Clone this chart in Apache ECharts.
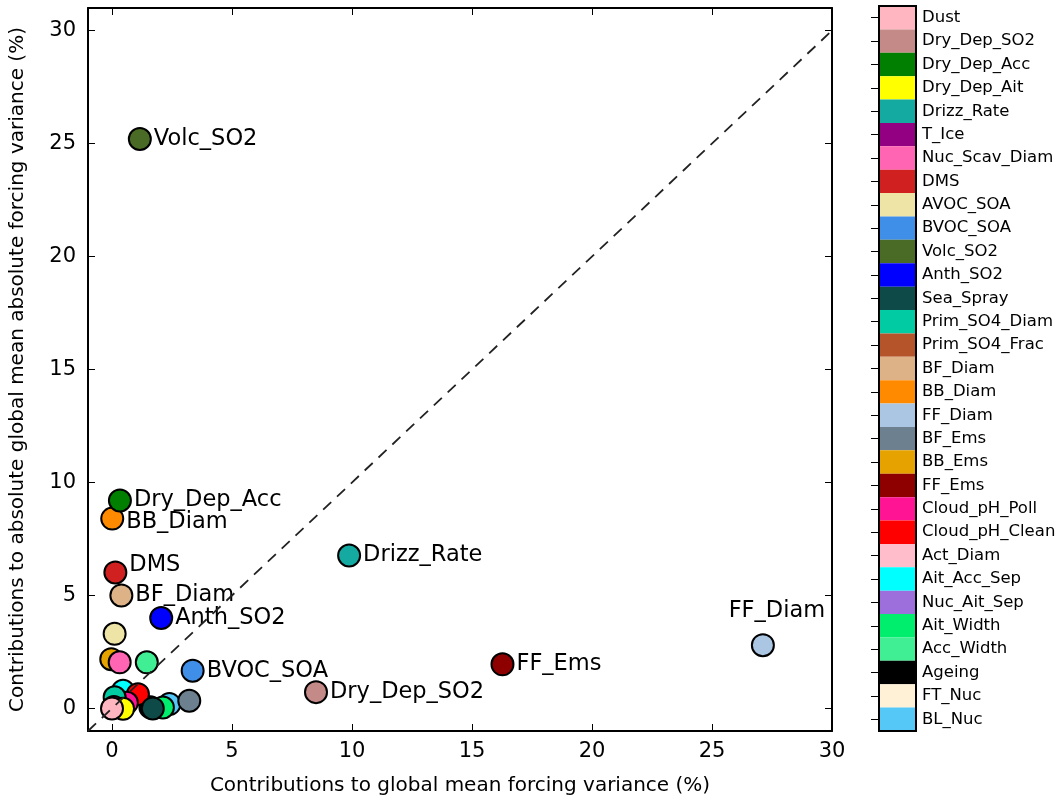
<!DOCTYPE html>
<html>
<head>
<meta charset="utf-8">
<script src="https://cdn.jsdelivr.net/npm/echarts@6/dist/echarts.min.js"></script>
<style>html,body{margin:0;padding:0;background:#fff}#c{width:1064px;height:802px}</style>
</head>
<body>
<div id="c"></div>
<script>
// Parameter names (legend order, top to bottom)
const names = ["Dust","Dry_Dep_SO2","Dry_Dep_Acc","Dry_Dep_Ait","Drizz_Rate","T_Ice","Nuc_Scav_Diam","DMS","AVOC_SOA","BVOC_SOA","Volc_SO2","Anth_SO2","Sea_Spray","Prim_SO4_Diam","Prim_SO4_Frac","BF_Diam","BB_Diam","FF_Diam","BF_Ems","BB_Ems","FF_Ems","Cloud_pH_Poll","Cloud_pH_Clean","Act_Diam","Ait_Acc_Sep","Nuc_Ait_Sep","Ait_Width","Acc_Width","Ageing","FT_Nuc","BL_Nuc"];
const colors = ["#FFB6C1","#C48A88","#007F00","#FFFF00","#14AAA2","#930082","#FF65B2","#D0201F","#EEE4A6","#3F8EE8","#4A6B25","#0000FF","#0E4A48","#00CBA3","#B5532A","#DDB287","#FF8A00","#AAC6E2","#6C8090","#E6A300","#8E0000","#FF1493","#FF0000","#FFBCCB","#00FFFF","#9C6FDC","#00EE6E","#40EE94","#000000","#FFF1D6","#55C8F8"];
// x: contribution to global mean forcing variance (%)
const xVals = [0.0, 8.5, 0.33, 0.46, 9.88, 0.08, 0.32, 0.14, 0.11, 3.36, 1.16, 2.05, 1.7, 0.11, 0.2, 0.39, 0.01, 27.12, 3.22, -0.03, 16.27, 0.62, 1.08, 0.05, 0.46, 0.5, 2.12, 1.45, 1.6, 0.3, 2.39];
// y: contribution to absolute global mean absolute forcing variance (%)
const yVals = [0.0, 0.72, 9.2, -0.02, 6.77, 0.06, 2.04, 6.02, 3.3, 1.67, 25.2, 4.0, 0.0, 0.49, 0.2, 5.0, 8.4, 2.8, 0.34, 2.18, 1.95, 0.25, 0.63, 0.05, 0.78, 0.5, 0.04, 2.04, 0.05, 0.1, 0.19];
const labelled = ["Volc_SO2","Dry_Dep_Acc","BB_Diam","DMS","BF_Diam","Anth_SO2","BVOC_SOA","Dry_Dep_SO2","Drizz_Rate","FF_Ems","FF_Diam"];
const ticks = [0,5,10,15,20,25,30];
const diagonal = [[-1,-1],[30,30]];

const FONT = "DejaVu Sans";
const labelOffsets = {DMS:[0,-7], BB_Diam:[0,4], FF_Diam:[14,-2]};

// draw in reverse legend order so earlier items sit on top
const pts = [];
for (let i = names.length - 1; i >= 0; i--) {
  const n = names[i];
  const item = {
    name: n,
    value: [xVals[i], yVals[i]],
    itemStyle: {color: colors[i]}
  };
  if (labelled.includes(n)) {
    item.label = {
      show: true,
      formatter: n,
      position: n === "FF_Diam" ? "top" : "right",
      distance: n === "FF_Diam" ? 8 : 2,
      offset: labelOffsets[n] || [0,0],
      fontFamily: FONT, fontSize: 22.5, color: "#000"
    };
  }
  pts.push(item);
}

const axisCommon = {
  axisLine: {show: true, onZero: false, lineStyle: {color: "#000", width: 2}},
  axisTick: {show: true, inside: true, length: 7, customValues: ticks, lineStyle: {color: "#000", width: 1}},
  splitLine: {show: false}
};

const chart = echarts.init(document.getElementById('c'), null, {renderer: 'canvas'});
chart.setOption({
  animation: false,
  backgroundColor: "#fff",
  grid: [
    {left: 85, right: 232, top: 8, bottom: 71, show: false},
    {left: 879, width: 37, top: 6, height: 725, show: true, borderColor: "#000", borderWidth: 2, backgroundColor: "transparent", z: 5}
  ],
  xAxis: [
    Object.assign({}, axisCommon, {
      type: "value", gridIndex: 0, min: -1, max: 30, position: "bottom",
      name: "Contributions to global mean forcing variance (%)",
      nameLocation: "middle", nameGap: 45,
      nameTextStyle: {fontFamily: FONT, fontSize: 20, color: "#000"},
      axisLabel: {show: true, customValues: ticks, fontFamily: FONT, fontSize: 21, color: "#000", margin: 10}
    }),
    Object.assign({}, axisCommon, {
      type: "value", gridIndex: 0, min: -1, max: 30, position: "top",
      axisLabel: {show: false}
    }),
    {type: "value", gridIndex: 1, min: 0, max: 1, show: false}
  ],
  yAxis: [
    Object.assign({}, axisCommon, {
      type: "value", gridIndex: 0, min: -1, max: 31, position: "left",
      name: "Contributions to absolute global mean absolute forcing variance (%)",
      nameLocation: "middle", nameGap: 60,
      nameTextStyle: {fontFamily: FONT, fontSize: 20, color: "#000"},
      axisLabel: {show: true, customValues: ticks, fontFamily: FONT, fontSize: 21, color: "#000", margin: 12}
    }),
    Object.assign({}, axisCommon, {
      type: "value", gridIndex: 0, min: -1, max: 31, position: "right",
      axisLabel: {show: false}
    }),
    {
      type: "category", gridIndex: 1, data: names, inverse: true, position: "right", z: 6,
      axisLine: {show: false},
      axisTick: {show: true, inside: true, length: 8, alignWithLabel: true, lineStyle: {color: "#000", width: 1}},
      axisLabel: {show: true, interval: 0, fontFamily: FONT, fontSize: 16.5, color: "#000", margin: 6},
      splitLine: {show: false}
    }
  ],
  series: [
    {
      type: "scatter", xAxisIndex: 0, yAxisIndex: 0, symbol: "circle", symbolSize: 22,
      itemStyle: {borderColor: "#000", borderWidth: 2, opacity: 1},
      emphasis: {disabled: true},
      data: pts, z: 3
    },
    {
      type: "line", xAxisIndex: 0, yAxisIndex: 0, data: diagonal, symbol: "none",
      lineStyle: {color: "#222", width: 1.8, type: [11, 8]}, z: 10, silent: true
    },
    {
      type: "bar", xAxisIndex: 2, yAxisIndex: 2, barWidth: "100%",
      data: names.map((n, i) => ({value: 1, itemStyle: {color: colors[i]}})),
      z: 2, silent: true
    }
  ]
});
</script>
</body>
</html>
